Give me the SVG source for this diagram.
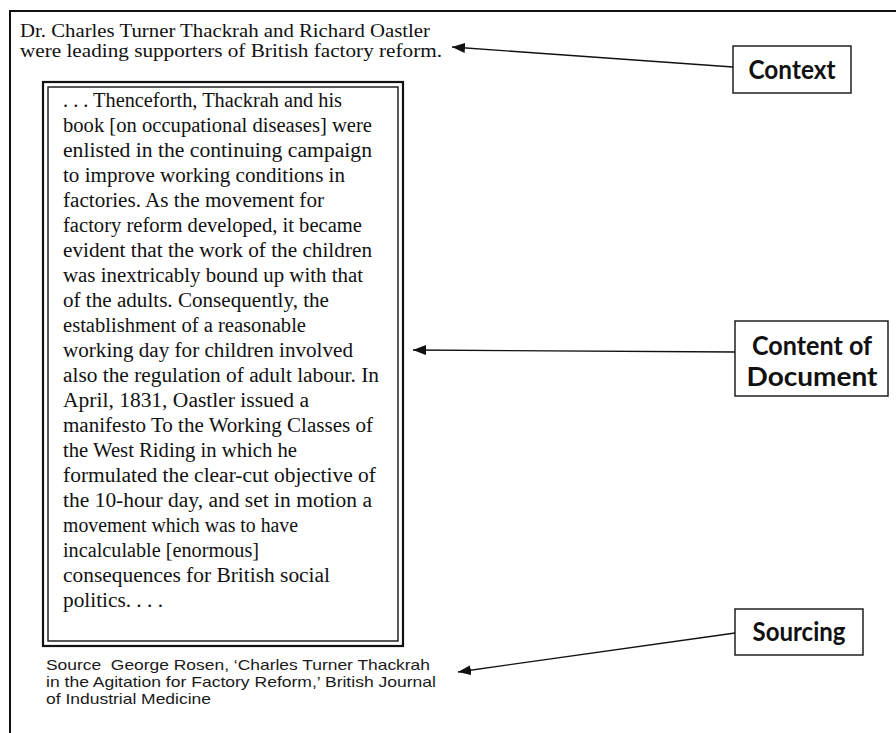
<svg xmlns="http://www.w3.org/2000/svg" width="896" height="733" viewBox="0 0 896 733">
<defs>
<style>
.serif{font-family:"Liberation Serif","Times New Roman",serif;fill:#111;}
.top{font-size:19px;}
.body{font-size:20px;}
.src{font-family:"Liberation Sans",Arial,sans-serif;font-size:14.5px;fill:#1a1a1a;}
.lbl{font-family:Lato,"Open Sans","Liberation Sans",sans-serif;font-weight:bold;font-size:26px;fill:#111;text-anchor:middle;}
.box{fill:#fff;stroke:#111;stroke-width:1.4;}
.conn{fill:none;stroke:#111;stroke-width:1.3;}
</style>
<marker id="ah" markerUnits="userSpaceOnUse" markerWidth="14" markerHeight="10" refX="13" refY="5" orient="auto">
<path d="M0,0 L13,5 L0,10 Z" fill="#111"/>
</marker>
</defs>
<rect width="896" height="733" fill="#fff"/>
<rect id="frame" x="10" y="11" width="900" height="740" fill="none" stroke="#111" stroke-width="2"/>

<g id="context-text" class="serif top">
<text x="20" y="37" textLength="410" lengthAdjust="spacingAndGlyphs">Dr. Charles Turner Thackrah and Richard Oastler</text>
<text x="20" y="57" textLength="422" lengthAdjust="spacingAndGlyphs">were leading supporters of British factory reform.</text>
</g>

<g id="document">
<rect x="43" y="82" width="360" height="564" fill="none" stroke="#111" stroke-width="2.2"/>
<rect x="48" y="87" width="350" height="554" fill="none" stroke="#111" stroke-width="1.4"/>
<g class="serif body">
<text x="63" y="107" textLength="279" lengthAdjust="spacingAndGlyphs">. . . Thenceforth, Thackrah and his</text>
<text x="63" y="132" textLength="309" lengthAdjust="spacingAndGlyphs">book [on occupational diseases] were</text>
<text x="63" y="157" textLength="309" lengthAdjust="spacingAndGlyphs">enlisted in the continuing campaign</text>
<text x="63" y="182" textLength="282" lengthAdjust="spacingAndGlyphs">to improve working conditions in</text>
<text x="63" y="207" textLength="261" lengthAdjust="spacingAndGlyphs">factories. As the movement for</text>
<text x="63" y="232" textLength="299" lengthAdjust="spacingAndGlyphs">factory reform developed, it became</text>
<text x="63" y="257" textLength="309" lengthAdjust="spacingAndGlyphs">evident that the work of the children</text>
<text x="63" y="282" textLength="300" lengthAdjust="spacingAndGlyphs">was inextricably bound up with that</text>
<text x="63" y="307" textLength="266" lengthAdjust="spacingAndGlyphs">of the adults. Consequently, the</text>
<text x="63" y="332" textLength="243" lengthAdjust="spacingAndGlyphs">establishment of a reasonable</text>
<text x="63" y="357" textLength="290" lengthAdjust="spacingAndGlyphs">working day for children involved</text>
<text x="63" y="382" textLength="316" lengthAdjust="spacingAndGlyphs">also the regulation of adult labour. In</text>
<text x="63" y="407" textLength="246" lengthAdjust="spacingAndGlyphs">April, 1831, Oastler issued a</text>
<text x="63" y="432" textLength="310" lengthAdjust="spacingAndGlyphs">manifesto To the Working Classes of</text>
<text x="63" y="457" textLength="234" lengthAdjust="spacingAndGlyphs">the West Riding in which he</text>
<text x="63" y="482" textLength="313" lengthAdjust="spacingAndGlyphs">formulated the clear-cut objective of</text>
<text x="63" y="507" textLength="309" lengthAdjust="spacingAndGlyphs">the 10-hour day, and set in motion a</text>
<text x="63" y="532" textLength="235" lengthAdjust="spacingAndGlyphs">movement which was to have</text>
<text x="63" y="557" textLength="196" lengthAdjust="spacingAndGlyphs">incalculable [enormous]</text>
<text x="63" y="582" textLength="267" lengthAdjust="spacingAndGlyphs">consequences for British social</text>
<text x="63" y="607" textLength="100" lengthAdjust="spacingAndGlyphs">politics. . . .</text>
</g>
</g>

<g id="source-text" class="src">
<text x="46" y="670" textLength="384" lengthAdjust="spacingAndGlyphs">Source&#160; George Rosen, ‘Charles Turner Thackrah</text>
<text x="46" y="687" textLength="390" lengthAdjust="spacingAndGlyphs">in the Agitation for Factory Reform,’ British Journal</text>
<text x="46" y="704" textLength="165" lengthAdjust="spacingAndGlyphs">of Industrial Medicine</text>
</g>

<g id="connectors">
<line class="conn" x1="733" y1="67" x2="452" y2="47" marker-end="url(#ah)"/>
<line class="conn" x1="735" y1="352" x2="413" y2="350" marker-end="url(#ah)"/>
<line class="conn" x1="735" y1="633" x2="458" y2="672" marker-end="url(#ah)"/>
</g>

<g id="label-context">
<rect class="box" x="733" y="46" width="118" height="47"/>
<text class="lbl" x="792" y="79" textLength="87" lengthAdjust="spacingAndGlyphs">Context</text>
</g>

<g id="label-content">
<rect class="box" x="735" y="321" width="153" height="75"/>
<text class="lbl" x="812" y="355" textLength="120" lengthAdjust="spacingAndGlyphs">Content of</text>
<text class="lbl" x="812" y="386" textLength="131" lengthAdjust="spacingAndGlyphs">Document</text>
</g>

<g id="label-sourcing">
<rect class="box" x="735" y="609" width="128" height="46"/>
<text class="lbl" x="799" y="641" textLength="93" lengthAdjust="spacingAndGlyphs">Sourcing</text>
</g>
</svg>
